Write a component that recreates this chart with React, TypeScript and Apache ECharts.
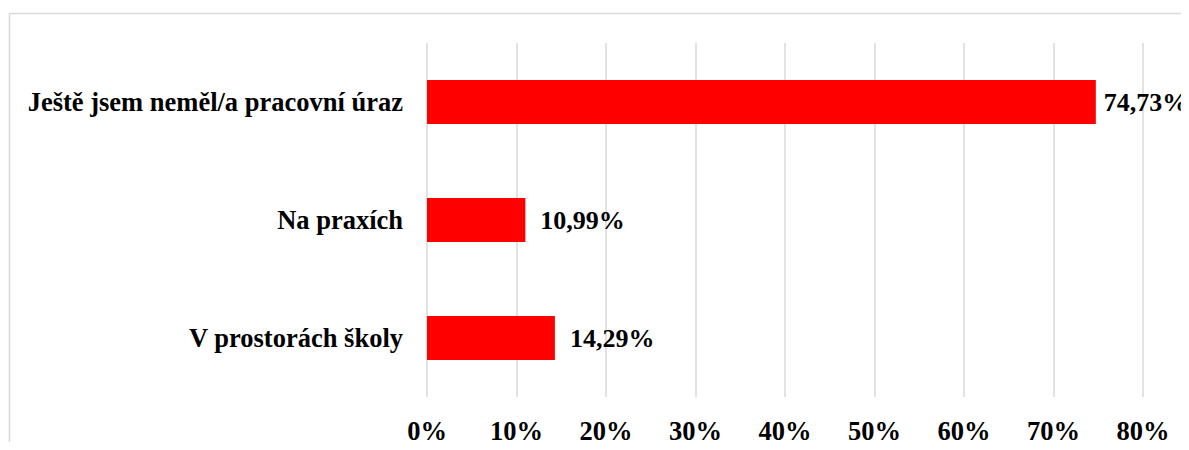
import React, { useEffect, useRef } from "react";
import * as echarts from "echarts";

const categories = ["V prostorách školy", "Na praxích", "Ještě jsem neměl/a pracovní úraz"];
const values = [14.29, 10.99, 74.73];
const tickMax = 80;
const tickStep = 10;

export default function App() {
  const ref = useRef<HTMLDivElement>(null);
  useEffect(() => {
    if (!ref.current) return;
    const chart = echarts.init(ref.current, null, { renderer: "svg" });
    const font = "'Liberation Serif', 'Times New Roman', Times, serif";
    const maxVal = Math.max(...values);
    chart.setOption({
      animation: false,
      backgroundColor: "#ffffff",
      graphic: [
        { type: "line", shape: { x1: 9.5, y1: 13.5, x2: 1189, y2: 13.5 }, style: { stroke: "#d9d9d9", lineWidth: 1.5 } },
        { type: "line", shape: { x1: 9.5, y1: 13.5, x2: 9.5, y2: 450 }, style: { stroke: "#d9d9d9", lineWidth: 1.5 } },
      ],
      grid: { left: 427, right: 46, top: 43, bottom: 53, containLabel: false },
      xAxis: {
        type: "value",
        min: 0,
        max: tickMax,
        interval: tickStep,
        axisLine: { show: false },
        axisTick: { show: false },
        splitLine: { lineStyle: { color: "#d9d9d9", width: 1.5 } },
        axisLabel: {
          formatter: (v: number) => v + "%",
          fontFamily: font,
          fontWeight: "bold",
          fontSize: 26.5,
          color: "#000",
          margin: 20,
        },
      },
      yAxis: {
        type: "category",
        data: categories,
        axisLine: { show: false },
        axisTick: { show: false },
        axisLabel: {
          fontFamily: font,
          fontWeight: "bold",
          fontSize: 26.5,
          color: "#000",
          margin: 24,
        },
      },
      series: [
        {
          type: "bar",
          data: values.map((v) =>
            v === maxVal ? { value: v, label: { distance: 8 } } : { value: v }
          ),
          barWidth: 44,
          itemStyle: { color: "#ff0000" },
          label: {
            show: true,
            position: "right",
            distance: 15,
            formatter: (p: any) => Number(p.value).toFixed(2).replace(".", ",") + "%",
            fontFamily: font,
            fontWeight: "bold",
            fontSize: 26,
            color: "#000",
          },
        },
      ],
    });
    return () => chart.dispose();
  }, []);
  return <div ref={ref} style={{ width: 1189, height: 450, margin: -8 }} />;
}
